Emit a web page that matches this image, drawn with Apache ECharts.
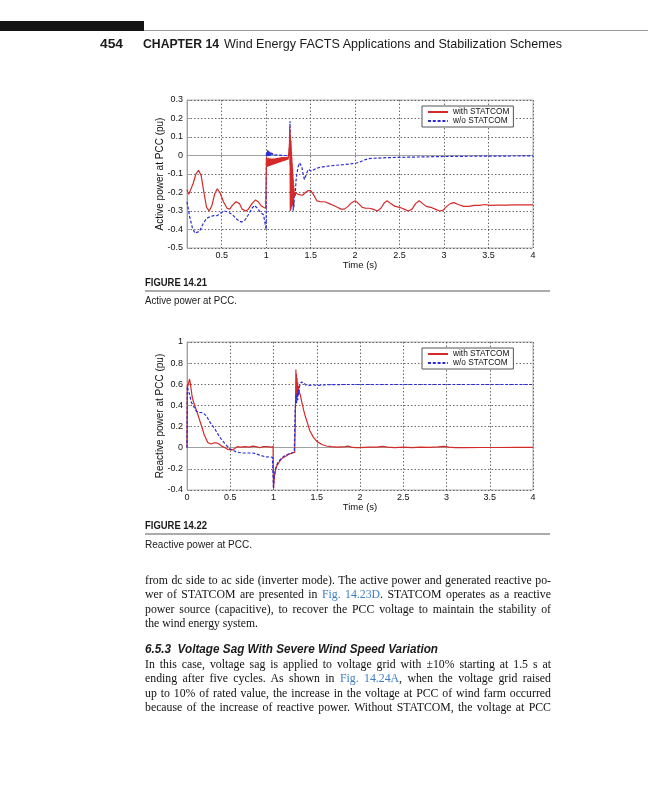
<!DOCTYPE html>
<html><head><meta charset="utf-8">
<script src="https://cdn.jsdelivr.net/npm/echarts@6/dist/echarts.min.js"></script>
<style>
html,body{margin:0;padding:0;background:#fff;}
#page{position:relative;width:648px;height:800px;overflow:hidden;background:#fff;}
#chart{position:absolute;left:0;top:0;width:648px;height:800px;}
.t{position:absolute;white-space:nowrap;color:#1a1a1a;}
.fit{display:inline-block;white-space:nowrap;transform-origin:0 50%;}
.sans{font-family:"Liberation Sans",Arial,sans-serif;}
.serif{font-family:"Liberation Serif","Times New Roman",serif;font-size:11.8px;line-height:14px;color:#111;}
.lnk{color:#3b7dc4;}
</style>
</head><body>
<div id="page">
  <div id="chart"></div>
  <div style="position:absolute;left:0;top:21px;width:144px;height:10px;background:#141414"></div>
  <div style="position:absolute;left:144px;top:30px;width:504px;height:1px;background:#9a9a9a"></div>

  <div class="t sans" style="left:100px;top:37px;font-size:12.5px;line-height:14px;font-weight:bold"><span class="fit" data-w="23">454</span></div>
  <div class="t sans" style="left:143px;top:37px;font-size:12.5px;line-height:14px;font-weight:bold"><span class="fit" data-w="76">CHAPTER 14</span></div>
  <div class="t sans" style="left:224px;top:37px;font-size:12.5px;line-height:14px;"><span class="fit" data-w="338">Wind Energy FACTS Applications and Stabilization Schemes</span></div>

  <div class="t sans" style="left:145px;top:277px;font-size:10px;line-height:12px;font-weight:bold"><span class="fit" data-w="62">FIGURE 14.21</span></div>
  <div style="position:absolute;left:145px;top:290px;width:405px;height:2px;background:#ababab"></div>
  <div class="t sans" style="left:145px;top:294px;font-size:10.5px;line-height:12px;"><span class="fit" data-w="92">Active power at PCC.</span></div>

  <div class="t sans" style="left:145px;top:520px;font-size:10px;line-height:12px;font-weight:bold"><span class="fit" data-w="62">FIGURE 14.22</span></div>
  <div style="position:absolute;left:145px;top:533px;width:405px;height:2px;background:#ababab"></div>
  <div class="t sans" style="left:145px;top:538px;font-size:10.5px;line-height:12px;"><span class="fit" data-w="107">Reactive power at PCC.</span></div>

  <div class="t serif" style="left:145px;top:573px"><span class="fit just" data-w="406">from dc side to ac side (inverter mode). The active power and generated reactive po-</span></div>
  <div class="t serif" style="left:145px;top:587px"><span class="fit just" data-w="406">wer of STATCOM are presented in <span class="lnk">Fig. 14.23D</span>. STATCOM operates as a reactive</span></div>
  <div class="t serif" style="left:145px;top:602px"><span class="fit just" data-w="406">power source (capacitive), to recover the PCC voltage to maintain the stability of</span></div>
  <div class="t serif" style="left:145px;top:616px"><span class="fit" data-w="113">the wind energy system.</span></div>

  <div class="t sans" style="left:145px;top:641px;font-size:13.5px;line-height:15px;font-weight:bold;font-style:italic"><span class="fit" data-w="293">6.5.3&nbsp; Voltage Sag With Severe Wind Speed Variation</span></div>

  <div class="t serif" style="left:145px;top:657px"><span class="fit just" data-w="406">In this case, voltage sag is applied to voltage grid with ±10% starting at 1.5 s at</span></div>
  <div class="t serif" style="left:145px;top:671px"><span class="fit just" data-w="406">ending after five cycles. As shown in <span class="lnk">Fig. 14.24A</span>, when the voltage grid raised</span></div>
  <div class="t serif" style="left:145px;top:686px"><span class="fit just" data-w="406">up to 10% of rated value, the increase in the voltage at PCC of wind farm occurred</span></div>
  <div class="t serif" style="left:145px;top:700px"><span class="fit just" data-w="406">because of the increase of reactive power. Without STATCOM, the voltage at PCC</span></div>
</div>
<script>
// ---- tick labels ----
const activeXTicks = [0.5, 1, 1.5, 2, 2.5, 3, 3.5, 4];
const reactiveXTicks = [0, 0.5, 1, 1.5, 2, 2.5, 3, 3.5, 4];

// ---- Figure 14.21 : Active power at PCC (pu) vs Time (s) ----
const activeWith = [
 [0.11,-0.185],[0.13,-0.21],[0.15,-0.2],[0.18,-0.15],[0.21,-0.1],[0.24,-0.08],[0.27,-0.11],[0.3,-0.2],[0.33,-0.28],[0.36,-0.3],
 [0.39,-0.27],[0.42,-0.21],[0.45,-0.18],[0.48,-0.2],[0.52,-0.25],[0.56,-0.285],[0.59,-0.29],[0.62,-0.27],[0.66,-0.25],[0.7,-0.26],
 [0.73,-0.29],[0.77,-0.3],[0.8,-0.29],[0.84,-0.26],[0.88,-0.24],[0.91,-0.25],[0.94,-0.27],[0.97,-0.28],[0.995,-0.285],[1.0,-0.29],
 [1.004,-0.01],[1.01,-0.005],[1.016,-0.06],[1.022,-0.012],[1.028,-0.058],[1.034,-0.015],[1.04,-0.056],[1.046,-0.016],[1.052,-0.054],
 [1.058,-0.017],[1.064,-0.052],[1.07,-0.017],[1.076,-0.05],[1.082,-0.016],[1.088,-0.048],[1.094,-0.016],[1.1,-0.046],[1.106,-0.015],
 [1.112,-0.044],[1.118,-0.014],[1.124,-0.042],[1.13,-0.013],[1.136,-0.04],[1.142,-0.012],[1.148,-0.038],[1.154,-0.011],[1.16,-0.036],
 [1.166,-0.01],[1.172,-0.034],[1.178,-0.009],[1.184,-0.032],[1.19,-0.009],[1.196,-0.03],[1.202,-0.008],[1.208,-0.028],[1.214,-0.008],
 [1.22,-0.026],[1.226,-0.008],[1.232,-0.024],[1.238,-0.008],[1.244,-0.022],[1.25,-0.01],[1.256,-0.02],
 [1.262,0.06],[1.265,0.155],[1.267,-0.05],[1.269,0.13],[1.271,-0.3],[1.273,0.1],[1.275,-0.28],[1.277,0.08],[1.279,-0.29],[1.281,0.05],
 [1.283,-0.28],[1.285,0.02],[1.287,-0.28],[1.289,-0.01],[1.291,-0.27],[1.293,-0.04],[1.295,-0.27],[1.297,-0.07],[1.299,-0.26],[1.301,-0.1],
 [1.303,-0.25],[1.305,-0.13],[1.307,-0.24],[1.309,-0.16],[1.311,-0.23],[1.314,-0.18],[1.318,-0.22],[1.325,-0.2],[1.335,-0.21],
 [1.36,-0.21],[1.38,-0.22],[1.41,-0.215],[1.44,-0.2],[1.47,-0.19],[1.5,-0.19],[1.53,-0.21],[1.57,-0.245],[1.61,-0.25],[1.66,-0.25],
 [1.71,-0.26],[1.76,-0.27],[1.8,-0.28],[1.84,-0.29],[1.88,-0.29],[1.92,-0.275],[1.96,-0.255],[2.0,-0.245],[2.04,-0.26],[2.08,-0.28],
 [2.12,-0.285],[2.16,-0.285],[2.2,-0.29],[2.25,-0.3],[2.29,-0.285],[2.33,-0.255],[2.36,-0.245],[2.4,-0.26],[2.45,-0.275],[2.5,-0.28],
 [2.55,-0.29],[2.6,-0.3],[2.64,-0.29],[2.68,-0.26],[2.72,-0.245],[2.76,-0.26],[2.8,-0.275],[2.85,-0.28],[2.9,-0.29],[2.95,-0.3],
 [2.99,-0.295],[3.03,-0.275],[3.07,-0.26],[3.11,-0.255],[3.16,-0.265],[3.22,-0.275],[3.28,-0.275],[3.34,-0.27],[3.4,-0.27],[3.46,-0.265],
 [3.52,-0.27],[3.6,-0.268],[3.7,-0.268],[3.8,-0.267],[3.9,-0.267],[4.0,-0.267]
];
const activeWithout = [
 [0.11,-0.25],[0.14,-0.33],[0.17,-0.39],[0.2,-0.42],[0.22,-0.43],[0.25,-0.41],[0.29,-0.37],[0.33,-0.34],[0.37,-0.33],[0.41,-0.325],
 [0.45,-0.325],[0.49,-0.31],[0.53,-0.3],[0.57,-0.305],[0.62,-0.32],[0.67,-0.345],[0.72,-0.36],[0.76,-0.35],[0.8,-0.32],[0.84,-0.285],
 [0.87,-0.27],[0.9,-0.285],[0.94,-0.31],[0.97,-0.32],[0.99,-0.33],[1.0,-0.4],
 [1.003,0.02],[1.007,0.03],[1.011,-0.005],[1.015,0.028],[1.019,-0.004],[1.023,0.025],[1.027,-0.003],[1.031,0.022],[1.035,-0.002],
 [1.039,0.02],[1.043,-0.001],[1.047,0.018],[1.051,0.0],[1.055,0.016],[1.059,0.0],[1.063,0.014],[1.067,0.001],[1.071,0.012],[1.075,0.001],
 [1.079,0.01],[1.083,0.001],[1.087,0.008],[1.091,0.001],[1.095,0.007],[1.1,0.002],[1.105,0.006],[1.11,0.002],[1.115,0.005],[1.12,0.002],
 [1.13,0.003],[1.15,0.001],[1.2,0.0],[1.258,0.0],
 [1.263,0.06],[1.268,0.185],[1.272,0.0],[1.276,0.08],[1.28,-0.12],[1.284,-0.02],[1.288,-0.2],[1.292,-0.1],[1.296,-0.26],[1.3,-0.18],
 [1.304,-0.3],[1.308,-0.22],[1.312,-0.28],[1.318,-0.2],[1.326,-0.22],[1.335,-0.14],[1.345,-0.1],[1.36,-0.06],[1.375,-0.04],[1.385,-0.035],
 [1.4,-0.06],[1.415,-0.1],[1.43,-0.13],[1.445,-0.12],[1.46,-0.09],[1.475,-0.075],[1.49,-0.075],[1.51,-0.085],[1.53,-0.08],[1.56,-0.07],
 [1.6,-0.065],[1.65,-0.06],[1.7,-0.057],[1.78,-0.053],[1.86,-0.05],[1.94,-0.046],[2.0,-0.042],[2.05,-0.036],[2.1,-0.025],[2.15,-0.017],
 [2.2,-0.015],[2.3,-0.013],[2.4,-0.011],[2.5,-0.01],[2.7,-0.008],[2.9,-0.006],[3.1,-0.005],[3.3,-0.004],[3.5,-0.003],[3.7,-0.003],[4.0,-0.002]
];

// ---- Figure 14.22 : Reactive power at PCC (pu) vs Time (s) ----
const reactiveWith = [
 [0,0],[0.004,0.6],[0.01,0.58],[0.02,0.62],[0.03,0.65],[0.04,0.6],[0.06,0.48],[0.08,0.42],[0.108,0.355],[0.135,0.29],[0.166,0.21],
 [0.2,0.12],[0.24,0.05],[0.28,0.035],[0.31,0.045],[0.34,0.047],[0.37,0.035],[0.4,0.015],[0.44,0.0],[0.47,-0.015],[0.52,-0.02],
 [0.55,-0.01],[0.58,0.01],[0.62,0.005],[0.67,0.01],[0.72,0.005],[0.76,0.015],[0.8,0.01],[0.84,0.0],[0.88,0.01],[0.93,0.01],
 [0.97,0.005],[0.995,0.01],[1.0,-0.38],[1.01,-0.28],[1.02,-0.22],[1.04,-0.17],[1.07,-0.13],[1.1,-0.1],[1.14,-0.08],[1.18,-0.06],
 [1.22,-0.05],[1.245,-0.045],[1.25,0.15],[1.255,0.45],[1.259,0.74],[1.262,0.5],[1.265,0.7],[1.268,0.48],[1.272,0.66],[1.276,0.5],
 [1.28,0.62],[1.284,0.52],[1.288,0.58],[1.295,0.53],[1.31,0.5],[1.33,0.42],[1.35,0.35],[1.37,0.29],[1.39,0.24],[1.42,0.16],
 [1.46,0.1],[1.5,0.06],[1.52,0.05],[1.56,0.03],[1.61,0.016],[1.67,0.01],[1.73,0.006],[1.78,0.008],[1.83,0.01],[1.86,0.015],
 [1.9,0.005],[1.95,0.0],[2.0,0.0],[2.1,0.005],[2.2,0.005],[2.26,0.012],[2.32,0.005],[2.4,0.0],[2.5,0.005],[2.6,0.0],[2.7,0.005],
 [2.8,0.003],[2.9,0.008],[2.97,0.012],[3.03,0.005],[3.1,0.0],[3.2,0.0],[3.4,0.002],[3.6,0.002],[3.8,0.003],[4.0,0.003]
];
const reactiveWithout = [
 [0,0],[0.004,0.58],[0.012,0.55],[0.031,0.5],[0.05,0.43],[0.077,0.39],[0.108,0.345],[0.147,0.335],[0.185,0.33],[0.224,0.3],
 [0.263,0.245],[0.32,0.18],[0.378,0.1],[0.436,0.04],[0.494,-0.01],[0.571,-0.04],[0.64,-0.05],[0.687,-0.05],[0.764,-0.05],
 [0.842,-0.07],[0.9,-0.085],[0.988,-0.09],[1.0,-0.39],[1.006,-0.3],[1.015,-0.24],[1.03,-0.18],[1.05,-0.14],[1.08,-0.11],
 [1.12,-0.08],[1.16,-0.065],[1.2,-0.05],[1.24,-0.045],[1.25,0.35],[1.256,0.42],[1.262,0.5],[1.268,0.42],[1.274,0.52],[1.28,0.45],
 [1.286,0.55],[1.292,0.5],[1.3,0.58],[1.31,0.6],[1.32,0.62],[1.335,0.63],[1.35,0.615],[1.37,0.595],[1.39,0.585],[1.41,0.59],
 [1.43,0.6],[1.46,0.595],[1.5,0.59],[1.55,0.592],[1.6,0.595],[1.7,0.597],[1.8,0.598],[2.0,0.598],[2.5,0.598],[3.0,0.598],
 [3.5,0.598],[4.0,0.598]
];

const RED = '#d42a2a', BLUE = '#2a2ad8';
const FONT = '"Liberation Sans", Arial, sans-serif';

function xAxisCfg(gi, min, ticks){
  return {
    type:'value', gridIndex:gi, min:min, max:4,
    name:'Time (s)', nameLocation:'middle', nameGap:12, nameMoveOverlap:false,
    nameTextStyle:{fontFamily:FONT, fontSize:9.5, color:'#111'},
    axisLine:{show:true, lineStyle:{color:'#a0a0a0', width:1}},
    axisTick:{show:true, inside:true, length:3, customValues:ticks, lineStyle:{color:'#a0a0a0'}},
    axisLabel:{customValues:ticks, margin:3, fontFamily:FONT, fontSize:9, color:'#111', showMinLabel:true, showMaxLabel:true},
    splitLine:{show:true, lineStyle:{type:[1.5,2], color:'#444', width:0.8}}
  };
}
function yAxisCfg(gi, min, max, interval, name){
  return {
    type:'value', gridIndex:gi, min:min, max:max, interval:interval,
    name:name, nameLocation:'middle', nameGap:21.5, nameMoveOverlap:false,
    nameTextStyle:{fontFamily:FONT, fontSize:10, color:'#111'},
    axisLine:{show:true, lineStyle:{color:'#a0a0a0', width:1}},
    axisTick:{show:true, inside:true, length:3, lineStyle:{color:'#a0a0a0'}},
    axisLabel:{margin:4, fontFamily:FONT, fontSize:9, color:'#111'},
    splitLine:{show:true, lineStyle:{type:[1.5,2], color:'#444', width:0.8}}
  };
}
function legendCfg(top){
  return {
    orient:'vertical', left:422, top:top, width:90,
    backgroundColor:'#fff', borderColor:'#555', borderWidth:1,
    padding:[2,4,2,5], itemGap:1, itemWidth:20, itemHeight:9,
    itemStyle:{opacity:0},
    textStyle:{fontFamily:FONT, fontSize:8.3, color:'#111'},
    data:['with STATCOM','w/o STATCOM']
  };
}
function lineSeries(name, data, xi, color, dashed, z){
  return {
    type:'line', name:name, data:data, xAxisIndex:xi, yAxisIndex:xi,
    showSymbol:false, symbol:'none', sampling:null, z:z, clip:true,
    lineStyle:{color:color, width:1.2, type: dashed ? [3,1.8] : 'solid'},
    itemStyle:{color:color}
  };
}

const chart = echarts.init(document.getElementById('chart'), null, {renderer:'canvas'});
chart.setOption({
  animation:false,
  backgroundColor:'transparent',
  grid:[
    {left:187, top:100, width:346, height:148, show:true, borderColor:'#b0b0b0', borderWidth:1, containLabel:false},
    {left:187, top:342, width:346, height:148, show:true, borderColor:'#b0b0b0', borderWidth:1, containLabel:false}
  ],
  xAxis:[ xAxisCfg(0, 0.11, activeXTicks), xAxisCfg(1, 0, reactiveXTicks) ],
  yAxis:[ yAxisCfg(0, -0.5, 0.3, 0.1, 'Active power at PCC (pu)'),
          yAxisCfg(1, -0.4, 1, 0.2, 'Reactive power at PCC (pu)') ],
  legend:[ legendCfg(106), legendCfg(348) ],
  series:[
    lineSeries('w/o STATCOM', activeWithout, 0, BLUE, true, 2),
    lineSeries('with STATCOM', activeWith, 0, RED, false, 3),
    lineSeries('with STATCOM', reactiveWith, 1, RED, false, 2),
    lineSeries('w/o STATCOM', reactiveWithout, 1, BLUE, true, 3)
  ]
});

// fit page text to its measured widths
document.querySelectorAll('.fit').forEach(function(el){
  const target = parseFloat(el.getAttribute('data-w'));
  const w = el.getBoundingClientRect().width;
  if (el.classList.contains('just')) {
    const spaces = (el.textContent.match(/ /g) || []).length;
    if (w < target && spaces) { el.style.wordSpacing = ((target - w) / spaces) + 'px'; }
    else if (w > target) { el.style.transform = 'scaleX(' + (target / w) + ')'; }
  } else {
    el.style.transform = 'scaleX(' + (target / w) + ')';
  }
});
</script>
</body></html>
